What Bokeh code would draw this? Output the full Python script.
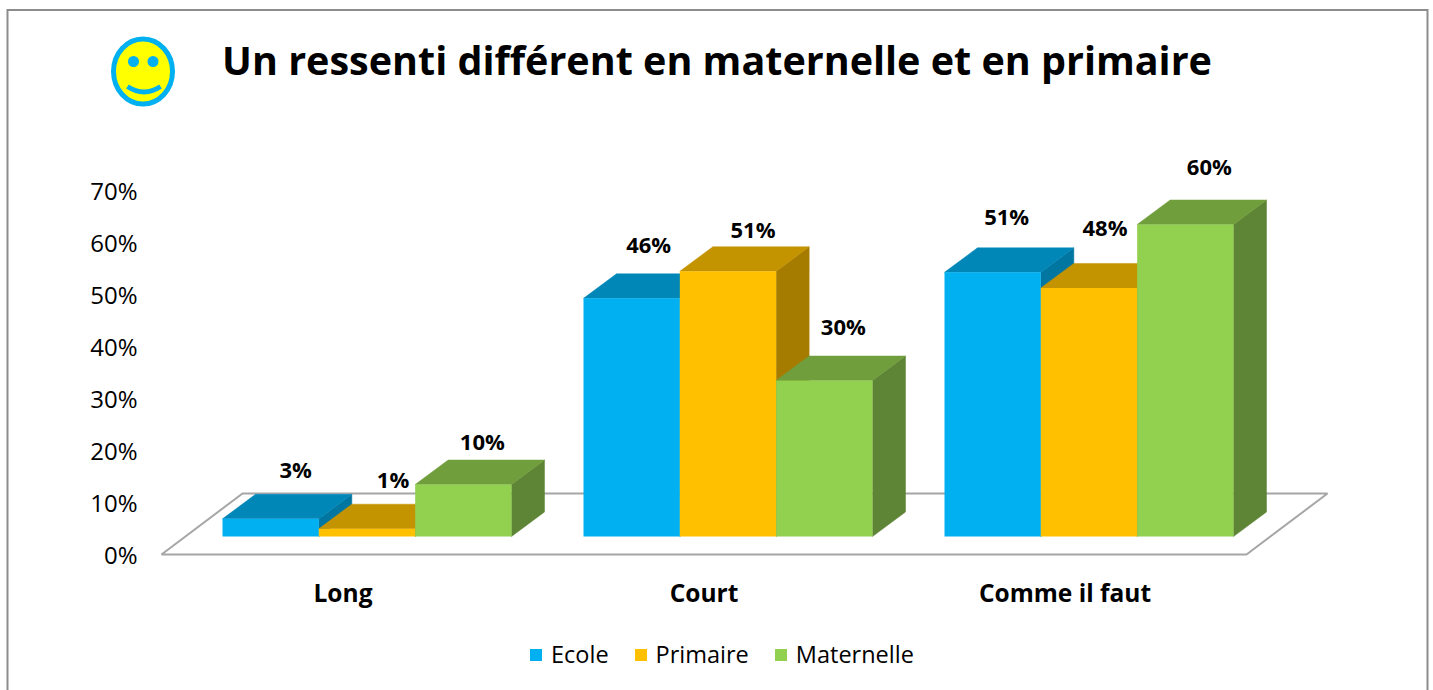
from bokeh.plotting import figure
from bokeh.models import (ColumnDataSource, LinearAxis, FixedTicker, PrintfTickFormatter, Range1d,
                          Legend, LegendItem)
from bokeh.core.properties import value
from bokeh.embed import file_html
from bokeh.resources import INLINE

# ---- data
categories = ["Long", "Court", "Comme il faut"]
series = ["Ecole", "Primaire", "Maternelle"]
ecole = [3.4, 45.8, 50.8]
primaire = [1.5, 51, 47.8]
maternelle = [10, 30, 60]
ecole_labels = ["3%", "46%", "51%"]
primaire_labels = ["1%", "51%", "48%"]
maternelle_labels = ["10%", "30%", "60%"]
y_ticks = [0, 10, 20, 30, 40, 50, 60, 70]
title_text = "Un ressenti différent en maternelle et en primaire"

# ---- styles
front = ["#00B0F0", "#FFC000", "#92D050"]
top = ["#0087B8", "#C49300", "#709E3C"]
side = ["#0076A1", "#A67C00", "#5E8435"]
label_dx = [[25, 17, 14], [26, 25, 16], [19, 19, 24]]
label_dy = [[50, 54, 56], [50, 42, 61], [44, 55, 59]]
FONT = "Open Sans"

W, H = 1433, 690
PX_X = 361.0      # page pixels for one category
PX_Y = 5.2        # page pixels for one percent
X0_PAGE, Y0_PAGE = 367.5, 554.0
xr = ((0 - X0_PAGE) / PX_X, (W - X0_PAGE) / PX_X)
yr = ((Y0_PAGE - H) / PX_Y, Y0_PAGE / PX_Y)


def X(px):
    return (px - X0_PAGE) / PX_X


def Y(py):
    return (Y0_PAGE - py) / PX_Y


p = figure(width=W, height=H, x_range=xr, y_range=yr, x_axis_type=None, y_axis_type=None,
           toolbar_location=None, output_backend="svg", min_border=0,
           outline_line_color=None, background_fill_color="white")

# frame: open at the bottom
p.line([X(7), X(7), X(1427), X(1427)], [Y(695), Y(9.5), Y(9.5), Y(695)],
       line_color="#8C8C8C", line_width=2, line_join="miter")

# floor
FLOOR_L, FLOOR_R = X(161), X(1246)
DEPTH_FLOOR_X, DEPTH_FLOOR_Y = 81 / PX_X, 61 / PX_Y
p.patch([FLOOR_L, FLOOR_R, FLOOR_R + DEPTH_FLOOR_X, FLOOR_L + DEPTH_FLOOR_X],
        [0, 0, DEPTH_FLOOR_Y, DEPTH_FLOOR_Y],
        fill_color="white", line_color="#A6A6A6", line_width=2)

# 3D bars
BAR_W = 96.33 / PX_X
BASE = 18 / PX_Y
DX, DY = 33 / PX_X, 24.5 / PX_Y
GROUP_SHIFT = -1 / PX_X
front_renderers = []
label_rows = {"x": [], "y": [], "t": [], "xo": [], "yo": []}
for s, (vals, labs) in enumerate(zip([ecole, primaire, maternelle],
                                     [ecole_labels, primaire_labels, maternelle_labels])):
    lefts = [c + GROUP_SHIFT + (s - 1.5) * BAR_W for c in range(len(categories))]
    rights = [l + BAR_W for l in lefts]
    tops = [BASE + v for v in vals]
    bases = [BASE] * len(vals)
    p.patches([[r, r + DX, r + DX, r] for r in rights],
              [[b, b + DY, t + DY, t] for b, t in zip(bases, tops)],
              fill_color=side[s], line_color=side[s], line_width=0.5)
    p.patches([[l, r, r + DX, l + DX] for l, r in zip(lefts, rights)],
              [[t, t, t + DY, t + DY] for t in tops],
              fill_color=top[s], line_color=top[s], line_width=0.5)
    fr = p.quad(left=lefts, right=rights, bottom=bases, top=tops,
                fill_color=front[s], line_color=None)
    front_renderers.append(fr)
    for i, (l, t) in enumerate(zip(lefts, tops)):
        label_rows["x"].append(l + BAR_W / 2)
        label_rows["y"].append(t)
        label_rows["t"].append(labs[i])
        label_rows["xo"].append(label_dx[s][i])
        label_rows["yo"].append(-label_dy[s][i])

p.text("x", "y", text="t", x_offset="xo", y_offset="yo", source=ColumnDataSource(label_rows),
       text_font=value(FONT), text_font_style="bold", text_font_size="22px",
       text_align="center", text_baseline="middle", text_color="black")

# title
p.text([X(716.5)], [Y(59)], text=[title_text], text_font=value(FONT), text_font_style="bold",
       text_font_size="39.5px", text_align="center", text_baseline="middle", text_color="black")

# smiley
p.ellipse([X(142.5)], [Y(71)], width=59, height=65, width_units="screen", height_units="screen",
          fill_color="#FFFF00", line_color="#00B0F0", line_width=5)
p.ellipse([X(133), X(152.5)], [Y(61), Y(61)], width=11, height=11, width_units="screen",
          height_units="screen", fill_color="#00B0F0", line_color=None)
p.quadratic(x0=[X(127)], y0=[Y(86)], x1=[X(160)], y1=[Y(86)], cx=[X(143.5)], cy=[Y(97)],
            line_color="#00B0F0", line_width=5)

# value axis at the front-left corner of the floor
yaxis = LinearAxis(ticker=FixedTicker(ticks=y_ticks), formatter=PrintfTickFormatter(format="%d%%"),
                   fixed_location=X(149), axis_line_color=None,
                   major_tick_line_color=None, minor_tick_line_color=None, major_label_standoff=6,
                   major_label_text_font=FONT, major_label_text_font_size="24px",
                   major_label_text_color="black")
p.add_layout(yaxis, "left")

# category axis
shift = 25 / PX_X
p.extra_x_ranges["cat"] = Range1d(xr[0] + shift, xr[1] + shift)
xaxis = LinearAxis(ticker=FixedTicker(ticks=list(range(len(categories)))),
                   major_label_overrides={i: c for i, c in enumerate(categories)},
                   x_range_name="cat", fixed_location=Y(567), axis_line_color=None,
                   major_tick_line_color=None, minor_tick_line_color=None, major_label_standoff=2,
                   major_label_text_font=FONT, major_label_text_font_style="bold",
                   major_label_text_font_size="24.5px", major_label_text_color="black")
p.add_layout(xaxis, "below")

# legend
legend = Legend(items=[LegendItem(label=n, renderers=[r]) for n, r in zip(series, front_renderers)],
                orientation="horizontal", location=(528, 20), glyph_width=15, glyph_height=15,
                label_standoff=8, spacing=24, padding=0, margin=0, background_fill_alpha=0,
                border_line_color=None, label_text_font=FONT, label_text_font_size="23.5px",
                label_text_color="black")
p.add_layout(legend, "center")

open("out.html", "w").write(file_html(p, INLINE))
